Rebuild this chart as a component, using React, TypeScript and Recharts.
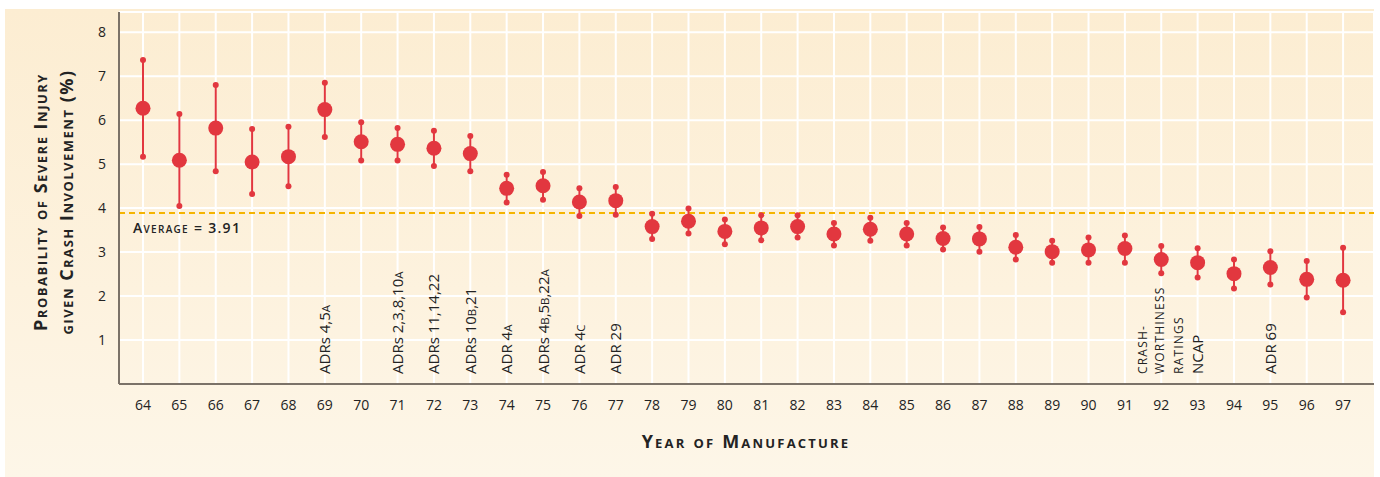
import React from 'react';
import {
  ComposedChart,
  Scatter,
  XAxis,
  YAxis,
  CartesianGrid,
  ReferenceLine,
  ErrorBar,
} from 'recharts';

// ---------- data ----------
const years = [
  64, 65, 66, 67, 68, 69, 70, 71, 72, 73, 74, 75, 76, 77, 78, 79, 80,
  81, 82, 83, 84, 85, 86, 87, 88, 89, 90, 91, 92, 93, 94, 95, 96, 97,
];
const meanValues = [
  6.27, 5.09, 5.82, 5.05, 5.17, 6.24, 5.51, 5.45, 5.36, 5.24, 4.45, 4.51, 4.14, 4.17, 3.58, 3.7, 3.47,
  3.55, 3.58, 3.41, 3.52, 3.41, 3.31, 3.3, 3.11, 3.01, 3.05, 3.08, 2.83, 2.76, 2.51, 2.65, 2.38, 2.36,
];
const lowValues = [
  5.17, 4.05, 4.84, 4.32, 4.5, 5.62, 5.08, 5.08, 4.96, 4.84, 4.13, 4.19, 3.82, 3.85, 3.3, 3.42, 3.18,
  3.27, 3.33, 3.15, 3.26, 3.15, 3.06, 3.01, 2.83, 2.76, 2.76, 2.76, 2.52, 2.42, 2.17, 2.26, 1.97, 1.63,
];
const highValues = [
  7.37, 6.14, 6.8, 5.8, 5.85, 6.85, 5.95, 5.82, 5.76, 5.64, 4.76, 4.82, 4.45, 4.48, 3.87, 3.99, 3.74,
  3.84, 3.84, 3.66, 3.78, 3.66, 3.56, 3.57, 3.39, 3.26, 3.33, 3.38, 3.14, 3.09, 2.83, 3.02, 2.8, 3.1,
];
const yTicks = [1, 2, 3, 4, 5, 6, 7, 8];
const averageValue = 3.89;
const averageLabel = 'Average = 3.91';

const annotationYears = [69, 71, 72, 73, 74, 75, 76, 77, 93, 95];
const annotationLabels = [
  'ADRs 4,5A',
  'ADRs 2,3,8,10A',
  'ADRs 11,14,22',
  'ADRs 10B,21',
  'ADR 4A',
  'ADRs 4B,5B,22A',
  'ADR 4C',
  'ADR 29',
  'NCAP',
  'ADR 69',
];
const multiLineYear = 92;
const multiLineLabel = ['CRASH-', 'WORTHINESS', 'RATINGS'];

const xTitle = 'Year of Manufacture';
const yTitleLines = ['Probability of Severe Injury', 'given Crash Involvement (%)'];

// ---------- styles ----------
const RED = '#e2373f';
const AXIS = '#7b7268';
const TEXT = '#232323';
const FONT = '"Open Sans", "DejaVu Sans", sans-serif';

const data = years.map((year, i) => ({
  year,
  mean: meanValues[i],
  low: lowValues[i],
  high: highValues[i],
  err: [meanValues[i] - lowValues[i], highValues[i] - meanValues[i]],
}));

function renderLabelText(label: string, size: number) {
  // uppercase letters directly after a digit are set in small caps (smaller size)
  const parts: React.ReactNode[] = [];
  for (let i = 0; i < label.length; i++) {
    const ch = label[i];
    const prev = i > 0 ? label[i - 1] : '';
    if (/[A-Z]/.test(ch) && /[0-9]/.test(prev)) {
      parts.push(
        <tspan key={i} fontSize={size * 0.76}>
          {ch}
        </tspan>
      );
    } else {
      parts.push(<tspan key={i}>{ch}</tspan>);
    }
  }
  return parts;
}

function vbBottom(props: any) {
  const vb = props.viewBox || {};
  const x = (vb.x ?? 0) + (vb.width ? vb.width / 2 : 0);
  const y = (vb.y ?? 0) + (vb.height ?? 0);
  return { x, y };
}

const makeAnnotation = (label: string) => (props: any) => {
  const { x, y } = vbBottom(props);
  const size = 15;
  const bx = x + 5.5;
  const by = y - 10;
  return (
    <text
      x={bx}
      y={by}
      transform={`rotate(-90, ${bx}, ${by})`}
      fontFamily={FONT}
      fontSize={size}
      fill={TEXT}
      textAnchor="start"
    >
      {renderLabelText(label, size)}
    </text>
  );
};

const multiLineAnnotation = (props: any) => {
  const { x, y } = vbBottom(props);
  const offsets = [-19, -2, 17];
  const by = y - 10;
  return (
    <g>
      {multiLineLabel.map((line, i) => {
        const bx = x + offsets[i] + 4.5;
        return (
          <text
            key={i}
            x={bx}
            y={by}
            transform={`rotate(-90, ${bx}, ${by})`}
            fontFamily={FONT}
            fontSize={12}
            letterSpacing={1.2}
            fill={TEXT}
            textAnchor="start"
          >
            {line}
          </text>
        );
      })}
    </g>
  );
};

const averageLabelContent = (props: any) => {
  const vb = props.viewBox || {};
  return (
    <text
      x={(vb.x ?? 0) + 14}
      y={(vb.y ?? 0) + 20}
      fontFamily={FONT}
      fontSize={14}
      fontWeight={600}
      letterSpacing={1.3}
      style={{ fontVariant: 'small-caps' }}
      fill={TEXT}
    >
      {averageLabel}
    </text>
  );
};

const yTitleContent = () => (
  <g>
    {yTitleLines.map((line, i) => {
      const bx = 47 + i * 26;
      const by = 202;
      return (
        <text
          key={i}
          x={bx}
          y={by}
          transform={`rotate(-90, ${bx}, ${by})`}
          fontFamily={FONT}
          fontSize={18}
          fontWeight={700}
          letterSpacing={1.5}
          style={{ fontVariant: 'small-caps' }}
          fill={TEXT}
          textAnchor="middle"
        >
          {line}
        </text>
      );
    })}
  </g>
);

const xTitleContent = () => (
  <text
    x={746}
    y={448}
    fontFamily={FONT}
    fontSize={18}
    fontWeight={700}
    letterSpacing={2.2}
    style={{ fontVariant: 'small-caps' }}
    fill={TEXT}
    textAnchor="middle"
  >
    {xTitle}
  </text>
);

const bigDot = (p: any) => <circle cx={p.cx} cy={p.cy} r={7.5} fill={RED} />;
const smallDot = (p: any) => <circle cx={p.cx} cy={p.cy} r={3} fill={RED} />;

export default function App() {
  return (
    <div style={{ position: 'absolute', left: 0, top: 0, width: 1380, height: 477, background: '#ffffff' }}>
      <div
        style={{
          position: 'absolute',
          left: 5,
          top: 9,
          width: 1369,
          height: 468,
          background: 'linear-gradient(180deg, #fcedd2 0%, #fdf2de 60%, #fdf6e8 100%)',
        }}
      />
      <div style={{ position: 'absolute', left: 0, top: 0 }}>
        <ComposedChart
          width={1380}
          height={477}
          data={data}
          margin={{ top: 12, right: 6, bottom: 0, left: 0 }}
        >
          <CartesianGrid stroke="#ffffff" strokeWidth={2} />
          <XAxis
            type="number"
            dataKey="year"
            domain={[63.34, 97.85]}
            allowDataOverflow
            ticks={years}
            interval={0}
            height={93}
            tickLine={false}
            tickSize={0}
            tickMargin={16}
            axisLine={{ stroke: AXIS, strokeWidth: 2 }}
            tick={{ fill: TEXT, fontSize: 14, fontFamily: FONT }}
            label={{ content: xTitleContent }}
          />
          <YAxis
            type="number"
            domain={[0, 8.46]}
            allowDataOverflow
            ticks={yTicks}
            interval={0}
            width={119}
            tickLine={false}
            tickSize={0}
            tickMargin={13}
            axisLine={{ stroke: AXIS, strokeWidth: 2 }}
            tick={{ fill: TEXT, fontSize: 14, fontFamily: FONT }}
            label={{ content: yTitleContent }}
          />
          <ReferenceLine
            y={averageValue}
            stroke="#f5b400"
            strokeWidth={2}
            strokeDasharray="6 4"
            label={averageLabelContent}
          />
          {annotationYears.map((yr, i) => (
            <ReferenceLine
              key={`ann-${yr}`}
              x={yr}
              stroke="none"
              label={makeAnnotation(annotationLabels[i])}
            />
          ))}
          <ReferenceLine x={multiLineYear} stroke="none" label={multiLineAnnotation} />
          <Scatter dataKey="mean" fill={RED} shape={bigDot} isAnimationActive={false}>
            <ErrorBar dataKey="err" direction="y" width={0} stroke={RED} strokeWidth={2} isAnimationActive={false} />
          </Scatter>
          <Scatter dataKey="low" fill={RED} shape={smallDot} isAnimationActive={false} />
          <Scatter dataKey="high" fill={RED} shape={smallDot} isAnimationActive={false} />
        </ComposedChart>
      </div>
    </div>
  );
}
